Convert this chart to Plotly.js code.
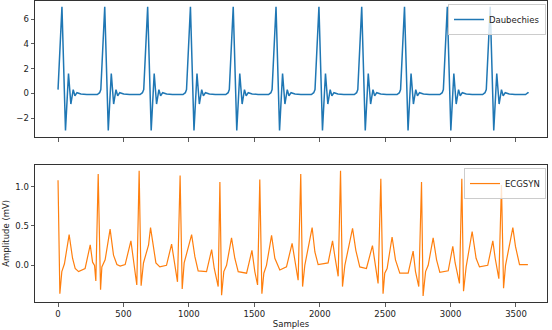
<!DOCTYPE html>
<html><head><meta charset="utf-8">
<script src="https://cdn.plot.ly/plotly-3.0.1.min.js"></script>
<style>html,body{margin:0;padding:0;background:#fff}#chart{width:552px;height:330px}</style>
</head><body><div id="chart"></div>
<script>
// Daubechies: one beat (sample offset from beat start, value)
const beatOffsets = [0, 30, 57, 80, 98, 116, 129, 145, 175, 220, 300, 318];
const beatValues  = [0.3, 7.0, -3.0, 1.6, -0.87, 0.3, -0.2, 0.05, -0.05, -0.1, -0.1, 0.05];
// beat start samples read from peak positions
const beatStarts = [0, 327, 655, 982, 1309, 1636, 1964, 2291, 2618, 2945, 3273];
const daubEnd = [3596, 0.0];

// ECGSYN vertices
const ecgX = [0,14,29,49,85,111,131,157,207,246,264,279,289,307,325,335,360,398,424,450,475,513,557,577,602,620,635,653,692,707,722,748,778,829,868,885,913,933,949,964,1021,1046,1071,1135,1174,1194,1224,1237,1250,1267,1288,1326,1351,1377,1441,1461,1482,1504,1525,1542,1558,1573,1593,1632,1657,1695,1746,1789,1810,1835,1855,1869,1886,1942,1963,1988,2064,2098,2116,2141,2159,2174,2192,2225,2251,2276,2306,2357,2403,2421,2446,2467,2484,2497,2515,2553,2579,2612,2676,2714,2732,2757,2778,2790,2809,2829,2867,2893,2918,2982,3017,3035,3068,3086,3099,3119,3165,3195,3221,3284,3323,3341,3369,3389,3405,3420,3476,3496,3527,3591];
const ecgY = [1.08,-0.36,-0.08,0.02,0.39,0.09,-0.04,-0.08,-0.04,0.26,0.04,0.0,-0.2,1.16,-0.31,-0.02,0.07,0.46,0.13,0.01,-0.01,0.01,0.31,0.07,-0.25,1.2,-0.26,0.03,0.26,0.48,0.3,0.03,-0.02,0.0,0.27,0.09,-0.21,1.14,-0.3,0.03,0.39,0.11,-0.07,-0.08,0.2,-0.04,-0.27,1.06,-0.38,-0.08,0.0,0.35,0.09,-0.08,-0.1,0.04,0.19,-0.08,-0.25,1.09,-0.36,-0.1,0.0,0.38,0.09,-0.06,-0.02,0.28,0.07,-0.19,1.16,-0.27,0.0,0.48,0.17,0.01,0.03,0.31,0.11,-0.14,1.2,-0.27,0.0,0.26,0.47,0.19,-0.02,-0.04,0.25,0.05,-0.23,1.1,-0.36,-0.1,-0.04,0.36,0.07,-0.1,-0.1,0.18,-0.08,-0.27,1.06,-0.39,-0.08,0.0,0.35,0.07,-0.09,-0.07,0.24,0.03,-0.23,1.1,-0.33,-0.02,0.43,0.09,-0.02,0.0,0.31,0.09,-0.17,1.02,-0.29,0.0,0.48,0.24,0.01,0.01];

const xTicks = [0, 500, 1000, 1500, 2000, 2500, 3000, 3500];
const topTicks = [-2, 0, 2, 4, 6];
const botTicks = [0.0, 0.5, 1.0];
const botTickText = ['0.0', '0.5', '1.0'];

const dX = [], dY = [];
beatStarts.forEach(s => {
  beatOffsets.forEach((o, i) => { dX.push(s + o); dY.push(beatValues[i]); });
});
dX.push(daubEnd[0]); dY.push(daubEnd[1]);

const font = {family: 'DejaVu Sans', size: 8.5, color: '#222'};
const axBase = {showline: true, mirror: true, linecolor: '#333', linewidth: 1,
  ticks: 'outside', ticklen: 3.5, tickwidth: 0.8, tickcolor: '#333',
  showgrid: false, zeroline: false, tickfont: font};

const traces = [
  {x: dX, y: dY, type: 'scatter', mode: 'lines', name: 'Daubechies',
   line: {color: '#1f77b4', width: 1.5}, xaxis: 'x', yaxis: 'y', legend: 'legend'},
  {x: ecgX, y: ecgY, type: 'scatter', mode: 'lines', name: 'ECGSYN',
   line: {color: '#ff7f0e', width: 1.2}, xaxis: 'x2', yaxis: 'y2', legend: 'legend2'}
];

const legBase = {xanchor: 'right', yanchor: 'top', bgcolor: 'rgba(255,255,255,0.8)',
  bordercolor: '#ccc', borderwidth: 1, font: font, itemwidth: 30, tracegroupgap: 0};

const layout = {
  width: 552, height: 330,
  margin: {l: 35, r: 5, t: 1, b: 28},
  paper_bgcolor: '#fff', plot_bgcolor: '#fff',
  showlegend: true,
  xaxis: Object.assign({}, axBase, {domain: [0, 1], range: [-176, 3737], tickvals: xTicks, showticklabels: false, anchor: 'y'}),
  yaxis: Object.assign({}, axBase, {domain: [0.548, 1], range: [-3.54, 7.47], tickvals: topTicks, ticktext: ['−2','0','2','4','6'], anchor: 'x'}),
  xaxis2: Object.assign({}, axBase, {domain: [0, 1], range: [-176, 3737], tickvals: xTicks, anchor: 'y2',
    title: {text: 'Samples', font: font, standoff: 2}}),
  yaxis2: Object.assign({}, axBase, {domain: [0, 0.456], range: [-0.466, 1.278], tickvals: botTicks, ticktext: botTickText, anchor: 'x2',
    title: {text: 'Amplitude (mV)', font: font, standoff: 4}}),
  legend: Object.assign({}, legBase, {x: 0.998, y: 0.99}),
  legend2: Object.assign({}, legBase, {x: 0.998, y: 0.445})
};

Plotly.newPlot('chart', traces, layout, {staticPlot: true, displayModeBar: false});
</script>
</body></html>
